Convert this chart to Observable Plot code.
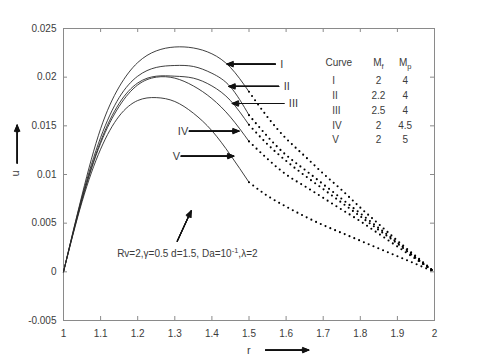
<!DOCTYPE html>
<html><head><meta charset="utf-8">
<script src="https://cdn.jsdelivr.net/npm/d3@7"></script>
<script src="https://cdn.jsdelivr.net/npm/@observablehq/plot@0.6"></script>
<style>body{margin:0;background:#fff}#chart svg{display:block}</style>
</head><body><div id="chart"></div>
<script>
// ---- data ----
const curveNames = ["I", "II", "III", "IV", "V"];
const mfValues = ["2", "2.2", "2.5", "2", "2"];
const mpValues = ["4", "4", "4", "4.5", "5"];

const rSolid = [1.00, 1.05, 1.10, 1.15, 1.20, 1.25, 1.30, 1.35, 1.40, 1.45, 1.50];
const uSolidI   = [0, 0.0079, 0.0147, 0.0190, 0.0215, 0.0227, 0.0231, 0.0230, 0.0224, 0.0210, 0.0185];
const uSolidII  = [0, 0.0077, 0.0138, 0.0179, 0.0201, 0.0210, 0.0212, 0.0211, 0.0204, 0.0190, 0.0161];
const uSolidIII = [0, 0.0075, 0.0134, 0.0173, 0.0194, 0.0201, 0.0201, 0.0199, 0.0191, 0.0176, 0.0151];
const uSolidIV  = [0, 0.0074, 0.0132, 0.0170, 0.0192, 0.0200, 0.0199, 0.0191, 0.0178, 0.0159, 0.0134];
const uSolidV   = [0, 0.0072, 0.0126, 0.0160, 0.0176, 0.0179, 0.0175, 0.0163, 0.0145, 0.0120, 0.0092];

const rDotted = [1.50, 1.55, 1.60, 1.65, 1.70, 1.75, 1.80, 1.85, 1.90, 1.95, 2.00];
const uDottedI   = [0.0185, 0.0159, 0.0137, 0.0119, 0.0101, 0.0084, 0.0066, 0.0049, 0.0032, 0.0016, 0];
const uDottedII  = [0.0161, 0.0139, 0.0120, 0.0105, 0.0090, 0.0075, 0.0060, 0.0045, 0.0030, 0.0015, 0];
const uDottedIII = [0.0151, 0.0131, 0.0114, 0.0099, 0.0085, 0.0071, 0.0057, 0.0043, 0.0029, 0.0014, 0];
const uDottedIV  = [0.0134, 0.0116, 0.0100, 0.0088, 0.0076, 0.0064, 0.0052, 0.0039, 0.0026, 0.0013, 0];
const uDottedV   = [0.0092, 0.0078, 0.0067, 0.0057, 0.0048, 0.0040, 0.0032, 0.0024, 0.0016, 0.0008, 0];

const xTicks = [1, 1.1, 1.2, 1.3, 1.4, 1.5, 1.6, 1.7, 1.8, 1.9, 2];
const xTickLabels = ["1", "1.1", "1.2", "1.3", "1.4", "1.5", "1.6", "1.7", "1.8", "1.9", "2"];
const yTicks = [-0.005, 0, 0.005, 0.01, 0.015, 0.02, 0.025];
const yTickLabels = ["-0.005", "0", "0.005", "0.01", "0.015", "0.02", "0.025"];

const xLabel = "r";
const yLabel = "u";
const paramText = "Rv=2,\u03b3=0.5 d=1.5, Da=10^{-1},\u03bb=2";
const legendHeader = ["Curve", "M_{f}", "M_{p}"];

// ---- build tables ----
const solidSeries = [uSolidI, uSolidII, uSolidIII, uSolidIV, uSolidV];
const dottedSeries = [uDottedI, uDottedII, uDottedIII, uDottedIV, uDottedV];
const solid = solidSeries.flatMap((s, k) => s.map((u, i) => ({curve: curveNames[k], r: rSolid[i], u})));
const dotted = dottedSeries.flatMap((s, k) => s.map((u, i) => ({curve: curveNames[k], r: rDotted[i], u})));

// layout
const W = 480, H = 360, mL = 63, mR = 46, mT = 28, mB = 40;
const xMin = 1, xMax = 2, yMin = -0.005, yMax = 0.025;
const pxX = (xMax - xMin) / (W - mL - mR);
const pxY = (yMax - yMin) / (H - mT - mB);
const tick = 4;
const ink = "#111", axisGray = "#8a8a8a", textGray = "#3c3c3c";

// curve-label arrows (label side -> curve), in data coordinates
const rightArrows = [
  {name: "I",   x1: 1.571, x2: 1.441, y: 0.02134},
  {name: "II",  x1: 1.580, x2: 1.446, y: 0.01905},
  {name: "III", x1: 1.594, x2: 1.455, y: 0.01730}
];
const leftArrows = [
  {name: "IV",  x1: 1.339, x2: 1.473, y: 0.01446},
  {name: "V",   x1: 1.317, x2: 1.459, y: 0.01189}
];
const otherArrows = [
  {x1: 1.3065, y1: 0.00315, x2: 1.3442, y2: 0.00627},
  {x1: 0.875, y1: 0.01117, x2: 0.875, y2: 0.01507},
  {x1: 1.5445, y1: -0.00804, x2: 1.661, y2: -0.00804}
];
const allArrows = [
  ...[...rightArrows, ...leftArrows].map(a => ({x1: a.x1, y1: a.y, x2: a.x2, y2: a.y})),
  ...otherArrows
];

const legendX = {curve: 1.706, roman: 1.7243, mf: 1.849, mp: 1.921};
const legendTop = 0.02151, legendRow0 = 0.01959, legendStep = 0.001515;

const arrowHeads = [48, 36, 24, 12].map(a => Plot.arrow(allArrows, {
  x1: "x1", y1: "y1", x2: "x2", y2: "y2", stroke: ink, strokeWidth: 1.1,
  headAngle: a, headLength: 9
}));

const font = {fontFamily: "'Liberation Sans', Arial, sans-serif", fontSize: 10};

const chart = Plot.plot({
  width: W, height: H,
  marginLeft: mL, marginRight: mR, marginTop: mT, marginBottom: mB,
  x: {domain: [xMin, xMax], axis: null},
  y: {domain: [yMin, yMax], axis: null},
  style: {background: "#fff", overflow: "visible"},
  marks: [
    Plot.frame({stroke: axisGray, strokeWidth: 1}),
    // ticks inward on all four sides
    Plot.ruleX(xTicks, {x: d => d, y1: yMin, y2: yMin + tick * pxY, stroke: axisGray}),
    Plot.ruleX(xTicks, {x: d => d, y1: yMax, y2: yMax - tick * pxY, stroke: axisGray}),
    Plot.ruleY(yTicks, {y: d => d, x1: xMin, x2: xMin + tick * pxX, stroke: axisGray}),
    Plot.ruleY(yTicks, {y: d => d, x1: xMax, x2: xMax - tick * pxX, stroke: axisGray}),
    Plot.text(xTicks, {x: d => d, y: yMin, text: (d, i) => xTickLabels[i], dy: 13, fill: textGray, ...font}),
    Plot.text(yTicks, {x: xMin, y: d => d, text: (d, i) => yTickLabels[i], dx: -7, textAnchor: "end", fill: textGray, ...font}),
    // curves
    Plot.line(solid, {x: "r", y: "u", z: "curve", curve: "natural", stroke: "#2a2a2a", strokeWidth: 0.9}),
    Plot.line(dotted, {x: "r", y: "u", z: "curve", curve: "natural", stroke: "#000", strokeWidth: 2.1,
      strokeDasharray: "0 5.2", strokeLinecap: "round"}),
    // arrows
    ...arrowHeads,
    // curve labels
    Plot.text(rightArrows, {x: "x1", y: "y", text: "name", dx: 5, textAnchor: "start", fill: textGray, ...font, fontSize: 11}),
    Plot.text(leftArrows, {x: "x1", y: "y", text: "name", dx: -1, textAnchor: "end", fill: textGray, ...font, fontSize: 11}),
    // axis labels
    Plot.text([yLabel], {x: 0.8706, y: 0.0101, text: d => d, rotate: -90, fill: textGray, ...font, fontSize: 11}),
    Plot.text([xLabel], {x: 1.4995, y: -0.00804, text: d => d, fill: textGray, ...font, fontSize: 11}),
    // parameter annotation
    Plot.text([paramText], {x: 1.1446, y: 0.00189, text: d => d, textAnchor: "start", fill: textGray, ...font}),
    // legend table
    Plot.text([legendHeader[0]], {x: legendX.curve, y: legendTop, text: d => d, textAnchor: "start", fill: textGray, ...font}),
    Plot.text([legendHeader[1]], {x: legendX.mf, y: legendTop, text: d => d, fill: textGray, ...font}),
    Plot.text([legendHeader[2]], {x: legendX.mp, y: legendTop, text: d => d, fill: textGray, ...font}),
    Plot.text(curveNames, {x: legendX.roman, y: (d, i) => legendRow0 - i * legendStep, text: d => d, textAnchor: "start", fill: textGray, ...font}),
    Plot.text(mfValues, {x: legendX.mf, y: (d, i) => legendRow0 - i * legendStep, text: d => d, fill: textGray, ...font}),
    Plot.text(mpValues, {x: legendX.mp, y: (d, i) => legendRow0 - i * legendStep, text: d => d, fill: textGray, ...font})
  ]
});

// rich text: _{..} subscript, ^{..} superscript
d3.select(chart).selectAll("text").each(function () {
  const s = this.textContent;
  if (!/[_^]\{/.test(s)) return;
  const node = this;
  node.textContent = "";
  let cur = 0;
  const add = (str, off, size) => {
    if (!str) return;
    const ts = document.createElementNS("http://www.w3.org/2000/svg", "tspan");
    ts.textContent = str;
    if (off !== cur) ts.setAttribute("dy", (off - cur) + "px");
    if (size) ts.setAttribute("font-size", size);
    cur = off;
    node.appendChild(ts);
  };
  const re = /([_^])\{([^}]*)\}/g;
  let last = 0, m;
  while ((m = re.exec(s))) {
    add(s.slice(last, m.index), 0);
    add(m[2], m[1] === "_" ? 3.5 : -4, 7.5);
    last = re.lastIndex;
  }
  add(s.slice(last), 0);
});

document.getElementById("chart").appendChild(chart);
</script>
</body></html>
